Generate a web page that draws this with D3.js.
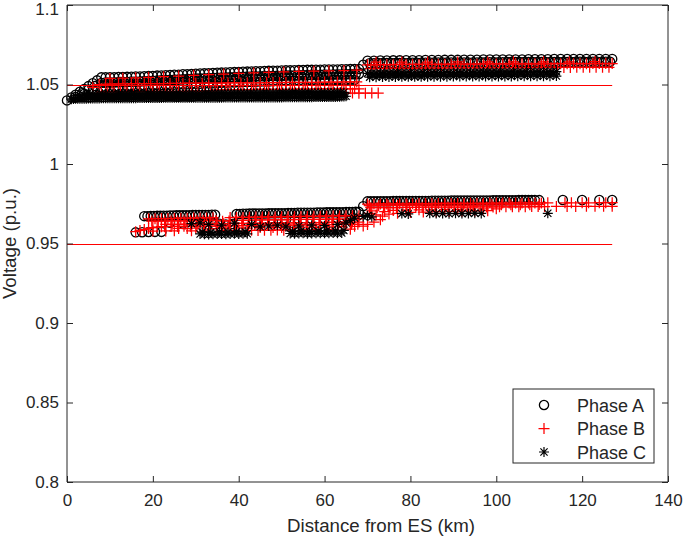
<!DOCTYPE html>
<html><head><meta charset="utf-8">
<script src="https://cdn.jsdelivr.net/npm/d3@7"></script>
<style>
body{margin:0;background:#fff}
svg text{font-family:"Liberation Sans",Arial,Helvetica,sans-serif;fill:#262626}
</style>
</head><body>
<svg id="chart" width="685" height="538"></svg>
<script>
const xTicks=[0,20,40,60,80,100,120,140];
const yTicks=[0.8,0.85,0.9,0.95,1,1.05,1.1];
const yTickLabels=["0.8","0.85","0.9","0.95","1","1.05","1.1"];
const xLabel="Distance from ES (km)";
const yLabel="Voltage (p.u.)";
const seriesNames=["Phase A","Phase B","Phase C"];
// voltage limit lines [value, from km, to km]
const limitLines=[[1.05,0,127],[0.95,0,127]];

// Phase A (circles) [km, p.u.]
const phaseA=[
[0,1.0400],[1,1.0418],[2,1.0436],[3,1.0454],[4,1.0472],[5,1.0490],[6,1.0508],[7,1.0526],[8,1.0545],[9,1.0545],[10,1.0546],[11,1.0546],[12,1.0547],[13,1.0547],[14,1.0548],[15,1.0549],[16,1.0550],[17,1.0551],[18,1.0552],[19,1.0553],[20,1.0554],[21,1.0556],[22,1.0557],[23,1.0558],[24,1.0560],[25,1.0561],[26,1.0562],[27,1.0564],[28,1.0565],[29,1.0566],[30,1.0568],[31,1.0569],[32,1.0570],[33,1.0571],[34,1.0573],[35,1.0574],[36,1.0575],[37,1.0576],[38,1.0577],[39,1.0578],[40,1.0579],[41,1.0580],[42,1.0581],[43,1.0582],[44,1.0583],[45,1.0584],[46,1.0585],[47,1.0586],[48,1.0587],[49,1.0587],[50,1.0588],[51,1.0589],[52,1.0589],[53,1.0590],[54,1.0591],[55,1.0591],[56,1.0592],[57,1.0592],[58,1.0593],[59,1.0593],[60,1.0594],[61,1.0594],[62,1.0595],[63,1.0595],[64,1.0596],[65,1.0596],[66,1.0597],[67,1.0597],[68,1.0598],[69,1.0624],
[70,1.0650],[71.5,1.0650],[73,1.0651],[74.5,1.0651],[76,1.0652],[77.5,1.0652],[79,1.0653],[80.5,1.0653],[82,1.0653],[83.5,1.0654],[85,1.0654],[86.5,1.0654],[88,1.0655],[89.5,1.0655],[91,1.0655],[92.5,1.0656],[94,1.0656],[95.5,1.0656],[97,1.0657],[98.5,1.0657],[100,1.0657],[101.5,1.0658],[103,1.0658],[104.5,1.0658],[106,1.0658],[107.5,1.0659],[109,1.0659],[110.5,1.0659],[112,1.0659],[113.5,1.0660],[115,1.0660],[116.5,1.0660],[118,1.0660],[119.5,1.0660],[121,1.0661],[122.5,1.0661],[124,1.0661],[125.5,1.0661],[127,1.0661],
[2,1.0422],[3.5,1.0445],[5,1.0468],[6.5,1.0490],[8,1.0510],[9.5,1.0512],[11,1.0513],[12.5,1.0515],[14,1.0516],[15.5,1.0518],[17,1.0519],[18.5,1.0521],[20,1.0523],[21.5,1.0525],[23,1.0527],[24.5,1.0529],[26,1.0531],[27.5,1.0533],[29,1.0535],[30.5,1.0537],[32,1.0538],[33.5,1.0540],[35,1.0542],[36.5,1.0543],[38,1.0545],[39.5,1.0546],[41,1.0548],[42.5,1.0549],[44,1.0551],[45.5,1.0552],[47,1.0553],[48.5,1.0554],[50,1.0555],[51.5,1.0556],[53,1.0557],[54.5,1.0558],[56,1.0559],[57.5,1.0560],[59,1.0561],[60.5,1.0562],[62,1.0563],[63.5,1.0563],[65,1.0564],[66.5,1.0565],[68,1.0566],
[8.75,1.0511],[10.25,1.0512],[11.75,1.0514],[13.25,1.0515],[14.75,1.0517],[16.25,1.0518],[17.75,1.0520],[19.25,1.0522],[20.75,1.0524],[22.25,1.0526],[23.75,1.0528],[25.25,1.0530],[26.75,1.0532],[28.25,1.0534],[29.75,1.0536],[31.25,1.0537],[32.75,1.0539],[34.25,1.0541],[35.75,1.0542],[37.25,1.0544],[38.75,1.0545],[40.25,1.0547],[41.75,1.0548],[43.25,1.0550],[44.75,1.0551],[46.25,1.0552],[47.75,1.0553],[49.25,1.0554],[50.75,1.0555],[52.25,1.0556],[53.75,1.0557],[55.25,1.0558],[56.75,1.0559],[58.25,1.0560],[59.75,1.0561],[61.25,1.0562],[62.75,1.0563],[64.25,1.0563],[65.75,1.0564],[67.25,1.0565],
[70.5,1.0634],[72.5,1.0635],[74.5,1.0635],[76.5,1.0636],[78.5,1.0636],[80.5,1.0637],[82.5,1.0637],[84.5,1.0638],[86.5,1.0638],[88.5,1.0638],[90.5,1.0639],[92.5,1.0639],[94.5,1.0639],[96.5,1.0640],[98.5,1.0640],[100.5,1.0640],[102.5,1.0641],[104.5,1.0641],[106.5,1.0641],[108.5,1.0641],[110.5,1.0642],[112.5,1.0642],[114.5,1.0642],[116.5,1.0642],[118.5,1.0643],[120.5,1.0643],[122.5,1.0643],[124.5,1.0643],[126.5,1.0643],
[71.5,1.0634],[73.5,1.0635],[75.5,1.0635],[77.5,1.0636],[79.5,1.0636],[81.5,1.0637],[83.5,1.0637],[85.5,1.0638],[87.5,1.0638],[89.5,1.0638],[91.5,1.0639],[93.5,1.0639],[95.5,1.0639],[97.5,1.0640],[99.5,1.0640],[101.5,1.0640],[103.5,1.0641],[105.5,1.0641],[107.5,1.0641],[109.5,1.0641],[111.5,1.0642],[113.5,1.0642],[115.5,1.0642],[117.5,1.0642],[119.5,1.0643],[121.5,1.0643],[123.5,1.0643],[125.5,1.0643],
[4,1.0440],[6,1.0462],[8,1.0482],[10,1.0484],[12,1.0486],[14,1.0488],[16,1.0490],[18,1.0492],[20,1.0494],[22,1.0496],[24,1.0498],[26,1.0500],[28,1.0502],[30,1.0504],[32,1.0506],[34,1.0508],[36,1.0510],[38,1.0512],[40,1.0514],[42,1.0516],[44,1.0517],[46,1.0519],[48,1.0520],[50,1.0522],[52,1.0523],[54,1.0524],[56,1.0525],[58,1.0526],[60,1.0527],[62,1.0528],[64,1.0529],[66,1.0530],
[9,1.0483],[11,1.0485],[13,1.0487],[15,1.0489],[17,1.0491],[19,1.0493],[21,1.0495],[23,1.0497],[25,1.0499],[27,1.0501],[29,1.0503],[31,1.0505],[33,1.0507],[35,1.0509],[37,1.0511],[39,1.0513],[41,1.0515],[43,1.0516],[45,1.0518],[47,1.0519],[49,1.0521],[51,1.0522],[53,1.0523],[55,1.0524],[57,1.0525],[59,1.0526],[61,1.0527],[63,1.0528],[65,1.0529],[67,1.0530],
[16,0.9570],[17.5,0.9571],[19,0.9572],[20.5,0.9573],[22,0.9573],
[18,0.9672],[19.5,0.9673],[21,0.9674],[22.5,0.9675],[24,0.9676],[25.5,0.9677],[27,0.9677],[28.5,0.9678],[30,0.9679],[31.5,0.9680],[33,0.9680],[34.5,0.9681],
[18.75,0.9672],[20.25,0.9673],[21.75,0.9674],[23.25,0.9675],[24.75,0.9676],[26.25,0.9677],[27.75,0.9678],[29.25,0.9679],[30.75,0.9679],[32.25,0.9680],[33.75,0.9681],
[35.5,0.9625],[37,0.9620],[38.5,0.9622],
[39.5,0.9686],[41,0.9687],[42.5,0.9688],[44,0.9688],[45.5,0.9689],[47,0.9690],[48.5,0.9690],[50,0.9691],[51.5,0.9692],[53,0.9692],[54.5,0.9693],[56,0.9694],[57.5,0.9694],[59,0.9695],[60.5,0.9696],[62,0.9696],[63.5,0.9697],[65,0.9698],[66.5,0.9698],[68,0.9699],
[40.25,0.9686],[41.75,0.9687],[43.25,0.9688],[44.75,0.9689],[46.25,0.9689],[47.75,0.9690],[49.25,0.9691],[50.75,0.9691],[52.25,0.9692],[53.75,0.9693],[55.25,0.9693],[56.75,0.9694],[58.25,0.9695],[59.75,0.9695],[61.25,0.9696],[62.75,0.9697],[64.25,0.9697],[65.75,0.9698],[67.25,0.9699],
[69,0.9735],[70,0.9765],[71.5,0.9765],[73,0.9766],[74.5,0.9766],[76,0.9767],[77.5,0.9767],[79,0.9767],[80.5,0.9768],[82,0.9768],[83.5,0.9768],[85,0.9769],[86.5,0.9769],[88,0.9769],[89.5,0.9770],[91,0.9770],[92.5,0.9770],[94,0.9771],[95.5,0.9771],[97,0.9771],[98.5,0.9771],[100,0.9772],[101.5,0.9772],[103,0.9772],[104.5,0.9772],[106,0.9773],[107.5,0.9773],[109,0.9773],[110,0.9773],
[70.75,0.9765],[72.25,0.9765],[73.75,0.9766],[75.25,0.9766],[76.75,0.9767],[78.25,0.9767],[79.75,0.9767],[81.25,0.9768],[82.75,0.9768],[84.25,0.9768],[85.75,0.9769],[87.25,0.9769],[88.75,0.9769],[90.25,0.9770],[91.75,0.9770],[93.25,0.9770],[94.75,0.9771],[96.25,0.9771],[97.75,0.9771],[99.25,0.9772],[100.75,0.9772],[102.25,0.9772],[103.75,0.9772],[105.25,0.9773],[106.75,0.9773],[108.25,0.9773],
[115.5,0.9774],[120,0.9774],[124,0.9774],[127,0.9774],
[24,0.9630],[27,0.9625],[42,0.9640],[46,0.9645],[51,0.9650],[55,0.9648],[60,0.9655],[64,0.9652]
];

// Phase B (plus) [km, p.u.]
const phaseB=[
[10,1.0538],[13,1.0540],[16,1.0542],[19,1.0545],[22.5,1.0549],[26,1.0553],[29.5,1.0558],[33,1.0562],[36.5,1.0566],[40,1.0570],[43.5,1.0573],[47,1.0576],[50.5,1.0579],[54,1.0582],[57.5,1.0584],[61,1.0586],[64.5,1.0588],[67.5,1.0590],
[6,1.0482],[7.5,1.0500],[9,1.0503],[10.5,1.0503],[12,1.0504],[13.5,1.0504],[15,1.0505],[16.5,1.0505],[18,1.0505],[19.5,1.0506],[21,1.0506],[22.5,1.0506],[24,1.0507],[25.5,1.0507],[27,1.0507],[28.5,1.0508],[30,1.0508],[31.5,1.0508],[33,1.0509],[34.5,1.0509],[36,1.0509],[37.5,1.0510],[39,1.0510],[40.5,1.0510],[42,1.0511],[43.5,1.0511],[45,1.0511],[46.5,1.0512],[48,1.0512],[49.5,1.0512],[51,1.0513],[52.5,1.0513],[54,1.0513],[55.5,1.0514],[57,1.0514],[58.5,1.0514],[60,1.0515],[61.5,1.0515],[63,1.0515],[64.5,1.0516],[66,1.0516],[67.5,1.0516],
[8,1.0452],[9.5,1.0453],[11,1.0453],[12.5,1.0454],[14,1.0454],[15.5,1.0455],[17,1.0455],[18.5,1.0455],[20,1.0456],[21.5,1.0456],[23,1.0456],[24.5,1.0457],[26,1.0457],[27.5,1.0457],[29,1.0458],[30.5,1.0458],[32,1.0458],[33.5,1.0459],
[35,1.0466],[36,1.0466],[37,1.0467],[38,1.0467],[39,1.0467],[40,1.0468],[41,1.0468],[42,1.0468],[43,1.0468],[44,1.0469],[45,1.0469],[46,1.0469],[47,1.0469],[48,1.0470],[49,1.0470],[50,1.0470],[51,1.0470],[52,1.0470],[53,1.0471],[54,1.0471],[55,1.0471],[56,1.0471],[57,1.0471],[58,1.0472],[59,1.0472],[60,1.0472],[61,1.0472],[62,1.0472],[63,1.0472],[64,1.0473],[65,1.0473],[66,1.0473],[67,1.0473],[68,1.0473],
[62,1.0448],[63.5,1.0447],[65,1.0446],[66.5,1.0446],[68,1.0445],[69.5,1.0445],[71,1.0446],[72.5,1.0446],
[70,1.0624],[71.5,1.0624],[73,1.0625],[74.5,1.0625],[76,1.0625],[77.5,1.0626],[79,1.0626],[80.5,1.0626],[82,1.0626],[83.5,1.0627],[85,1.0627],[86.5,1.0627],[88,1.0627],[89.5,1.0628],[91,1.0628],[92.5,1.0628],[94,1.0628],[95.5,1.0628],[97,1.0629],[98.5,1.0629],[100,1.0629],[101.5,1.0629],[103,1.0629],[104.5,1.0630],[106,1.0630],[107.5,1.0630],[109,1.0630],[110.5,1.0630],[112,1.0630],[113.5,1.0631],[115,1.0631],[116.5,1.0631],[118,1.0631],[119.5,1.0631],[121,1.0631],[122.5,1.0632],[124,1.0632],[125.5,1.0632],[127,1.0632],
[70.75,1.0600],[72.25,1.0600],[73.75,1.0601],[75.25,1.0601],[76.75,1.0601],[78.25,1.0602],[79.75,1.0602],[81.25,1.0602],[82.75,1.0603],[84.25,1.0603],[85.75,1.0603],[87.25,1.0603],[88.75,1.0604],[90.25,1.0604],[91.75,1.0604],[93.25,1.0604],[94.75,1.0605],[96.25,1.0605],[97.75,1.0605],[99.25,1.0605],[100.75,1.0605],[102.25,1.0606],[103.75,1.0606],[105.25,1.0606],[106.75,1.0606],[108.25,1.0606],[109.75,1.0607],[111.25,1.0607],[112.75,1.0607],[114.25,1.0607],[115.75,1.0607],[117.25,1.0607],[118.75,1.0608],[120.25,1.0608],[121.75,1.0608],[123.25,1.0608],[124.75,1.0608],[126.25,1.0608],
[72,1.0640],[78,1.0641],[84,1.0641],[91,1.0642],[98,1.0642],[104,1.0643],[111,1.0643],[117,1.0643],[123,1.0644],
[16,0.9574],[17,0.9582],[18,0.9588],[19,0.9595],[20,0.9600],[21,0.9603],[22,0.9606],
[19,0.9655],[20.5,0.9656],[22,0.9657],[23.5,0.9657],[25,0.9658],[26.5,0.9659],[28,0.9659],[29.5,0.9660],[31,0.9661],[32.5,0.9661],[34,0.9662],[38,0.9663],[39.5,0.9664],[41,0.9664],[42.5,0.9665],[44,0.9666],[45.5,0.9666],[47,0.9667],[48.5,0.9667],[50,0.9668],[51.5,0.9669],[53,0.9669],[54.5,0.9670],[56,0.9670],[57.5,0.9671],[59,0.9672],[60.5,0.9672],[62,0.9673],[63.5,0.9673],[65,0.9674],[66.5,0.9675],[68,0.9675],
[19.75,0.9640],[21.25,0.9641],[22.75,0.9641],[24.25,0.9642],[25.75,0.9642],[27.25,0.9643],[28.75,0.9643],[30.25,0.9644],[31.75,0.9644],[33.25,0.9645],[34.75,0.9645],[36.25,0.9640],[37.75,0.9642],[39.25,0.9646],[40.75,0.9646],[42.25,0.9647],[43.75,0.9647],[45.25,0.9648],[46.75,0.9648],[48.25,0.9649],[49.75,0.9649],[51.25,0.9650],[52.75,0.9650],[54.25,0.9651],[55.75,0.9651],[57.25,0.9652],[58.75,0.9652],[60.25,0.9653],[61.75,0.9653],[63.25,0.9654],[64.75,0.9654],[66.25,0.9655],[67.75,0.9655],
[23,0.9620],[24.5,0.9621],[26,0.9621],[27.5,0.9622],[29,0.9622],[30.5,0.9623],[32,0.9623],[33.5,0.9624],[35,0.9624],[36.5,0.9625],[38,0.9625],[39.5,0.9626],[41,0.9626],[42.5,0.9627],[44,0.9627],[45.5,0.9628],[47,0.9628],[48.5,0.9629],[50,0.9629],[51.5,0.9630],[53,0.9630],[54.5,0.9631],[56,0.9631],[57.5,0.9632],[59,0.9632],[60.5,0.9633],[62,0.9633],[63.5,0.9634],[65,0.9634],[66.5,0.9635],[68,0.9635],
[22.75,0.9606],[24.25,0.9607],[25.75,0.9607],[27.25,0.9608],[28.75,0.9608],[30.25,0.9609],[31.75,0.9609],[33.25,0.9610],[34.75,0.9610],[36.25,0.9611],[37.75,0.9611],[39.25,0.9612],[40.75,0.9612],[42.25,0.9613],[43.75,0.9613],[45.25,0.9614],[46.75,0.9614],[48.25,0.9615],[49.75,0.9615],[51.25,0.9616],[52.75,0.9616],[54.25,0.9617],[55.75,0.9617],[57.25,0.9618],[58.75,0.9618],[60.25,0.9619],[61.75,0.9619],[63.25,0.9620],[64.75,0.9620],[66.25,0.9621],[67.75,0.9621],
[26,0.9595],[28,0.9594],[30,0.9596],[33,0.9592],[35,0.9594],[37,0.9596],[40,0.9598],[42,0.9597],[45,0.9600],[48,0.9601],[50,0.9600],[53,0.9602],[56,0.9603],[58,0.9602],[61,0.9605],[64,0.9606],[67,0.9608],[69,0.9610],[70,0.9620],[71.5,0.9635],[73,0.9650],
[20,0.9578],[23,0.9579],[25,0.9580],[29,0.9580],[32,0.9579],[36,0.9581],[39,0.9582],[43,0.9583],[44.5,0.9582],[46,0.9584],[47.5,0.9583],[49,0.9585],[50.5,0.9584],[52,0.9586],[55,0.9587],[58,0.9588],[62,0.9589],[66,0.9590],
[70,0.9748],[71.5,0.9748],[73,0.9749],[74.5,0.9749],[76,0.9749],[77.5,0.9750],[79,0.9750],[80.5,0.9750],[82,0.9751],[83.5,0.9751],[85,0.9751],[86.5,0.9752],[88,0.9752],[89.5,0.9752],[91,0.9752],[92.5,0.9753],[94,0.9753],[95.5,0.9753],[97,0.9753],[98.5,0.9754],[100,0.9754],[101.5,0.9754],[103,0.9754],[104.5,0.9755],[106,0.9755],[107.5,0.9755],[109,0.9755],[110.5,0.9755],[112,0.9756],[116,0.9756],[117.5,0.9756],[120,0.9756],[121.5,0.9756],[124,0.9757],[125.5,0.9757],[127,0.9757],
[70.75,0.9725],[72.25,0.9725],[73.75,0.9726],[75.25,0.9726],[76.75,0.9726],[78.25,0.9727],[79.75,0.9727],[81.25,0.9727],[82.75,0.9728],[84.25,0.9728],[85.75,0.9728],[87.25,0.9728],[88.75,0.9729],[90.25,0.9729],[91.75,0.9729],[93.25,0.9729],[94.75,0.9730],[96.25,0.9730],[97.75,0.9730],[99.25,0.9730],[100.75,0.9731],[102.25,0.9731],[103.75,0.9731],[105.25,0.9731],[106.75,0.9731],[108.25,0.9732],[109.75,0.9732],[111.25,0.9732],[114,0.9733],[116.5,0.9733],[118.5,0.9733],[121,0.9734],[123,0.9734],[125,0.9734],[127,0.9734],
[70.4,0.9738],[72.6,0.9738],[74.8,0.9739],[77,0.9739],[79.2,0.9740],[81.4,0.9740],[83.6,0.9741],[85.8,0.9741],[88,0.9741],[90.2,0.9742],[92.4,0.9742],[94.6,0.9742],[96.8,0.9743],[99,0.9743],[101.2,0.9743],[103.4,0.9744],[105.6,0.9744],[107.8,0.9744],[110,0.9745],
[70.5,0.9690],[72,0.9680],[73.5,0.9672],[75,0.9685],[77,0.9690],[80,0.9695],[83,0.9698],[86,0.9700],[89,0.9702],[92,0.9703],[95,0.9705],[98,0.9706],
[71,0.9705],[74,0.9700],[76,0.9708],[79,0.9710],[82,0.9712],[85,0.9712],[88,0.9714],[91,0.9715],[94,0.9716],[97,0.9717],[100,0.9718]
];

// Phase C (asterisk) [km, p.u.]
const phaseC=[
[1,1.0408],[2,1.0410],[3,1.0411],[4,1.0411],[5,1.0412],[6,1.0412],[7,1.0412],[8,1.0413],[9,1.0413],[10,1.0413],[11,1.0413],[12,1.0414],[13,1.0414],[14,1.0414],[15,1.0414],[16,1.0414],[17,1.0415],[18,1.0415],[19,1.0415],[20,1.0415],[21,1.0415],[22,1.0415],[23,1.0416],[24,1.0416],[25,1.0416],[26,1.0416],[27,1.0416],[28,1.0416],[29,1.0416],[30,1.0417],[31,1.0417],[32,1.0417],[33,1.0417],[34,1.0417],[35,1.0417],[36,1.0417],[37,1.0418],[38,1.0418],[39,1.0418],[40,1.0418],[41,1.0418],[42,1.0418],[43,1.0418],[44,1.0419],[45,1.0419],[46,1.0419],[47,1.0419],[48,1.0419],[49,1.0419],[50,1.0419],[51,1.0420],[52,1.0420],[53,1.0420],[54,1.0420],[55,1.0420],[56,1.0420],[57,1.0420],[58,1.0421],[59,1.0421],[60,1.0421],[61,1.0421],[62,1.0422],[63,1.0423],[64,1.0424],[65,1.0426],
[1.5,1.0409],[2.5,1.0410],[3.5,1.0411],[4.5,1.0411],[5.5,1.0412],[6.5,1.0412],[7.5,1.0412],[8.5,1.0413],[9.5,1.0413],[10.5,1.0413],[11.5,1.0414],[12.5,1.0414],[13.5,1.0414],[14.5,1.0414],[15.5,1.0414],[16.5,1.0415],[17.5,1.0415],[18.5,1.0415],[19.5,1.0415],[20.5,1.0415],[21.5,1.0415],[22.5,1.0416],[23.5,1.0416],[24.5,1.0416],[25.5,1.0416],[26.5,1.0416],[27.5,1.0416],[28.5,1.0416],[29.5,1.0417],[30.5,1.0417],[31.5,1.0417],[32.5,1.0417],[33.5,1.0417],[34.5,1.0417],[35.5,1.0417],[36.5,1.0418],[37.5,1.0418],[38.5,1.0418],[39.5,1.0418],[40.5,1.0418],[41.5,1.0418],[42.5,1.0418],[43.5,1.0419],[44.5,1.0419],[45.5,1.0419],[46.5,1.0419],[47.5,1.0419],[48.5,1.0419],[49.5,1.0419],[50.5,1.0420],[51.5,1.0420],[52.5,1.0420],[53.5,1.0420],[54.5,1.0420],[55.5,1.0420],[56.5,1.0420],[57.5,1.0421],[58.5,1.0421],[59.5,1.0421],[60.5,1.0421],[61.5,1.0422],[62.5,1.0422],[63.5,1.0423],[64.5,1.0425],
[3,1.0430],[4.5,1.0436],[6,1.0438],[7.5,1.0439],[9,1.0440],[10.5,1.0440],[12,1.0441],[13.5,1.0441],[15,1.0442],[16.5,1.0442],[18,1.0442],[19.5,1.0443],[21,1.0443],[22.5,1.0443],[24,1.0444],[25.5,1.0444],[27,1.0444],[28.5,1.0445],[30,1.0445],[31.5,1.0445],[33,1.0446],[34.5,1.0446],[36,1.0446],[37.5,1.0446],[39,1.0447],[40.5,1.0447],[42,1.0447],[43.5,1.0447],[45,1.0448],[46.5,1.0448],[48,1.0448],[49.5,1.0448],[51,1.0449],[52.5,1.0449],[54,1.0449],[55.5,1.0449],[57,1.0450],[58.5,1.0450],[60,1.0450],[61.5,1.0450],[63,1.0451],[64.5,1.0451],
[5.25,1.0437],[6.75,1.0438],[8.25,1.0439],[9.75,1.0440],[11.25,1.0440],[12.75,1.0441],[14.25,1.0441],[15.75,1.0442],[17.25,1.0442],[18.75,1.0443],[20.25,1.0443],[21.75,1.0443],[23.25,1.0444],[24.75,1.0444],[26.25,1.0444],[27.75,1.0445],[29.25,1.0445],[30.75,1.0445],[32.25,1.0446],[33.75,1.0446],[35.25,1.0446],[36.75,1.0446],[38.25,1.0447],[39.75,1.0447],[41.25,1.0447],[42.75,1.0447],[44.25,1.0448],[45.75,1.0448],[47.25,1.0448],[48.75,1.0448],[50.25,1.0449],[51.75,1.0449],[53.25,1.0449],[54.75,1.0449],[56.25,1.0450],[57.75,1.0450],[59.25,1.0450],[60.75,1.0450],[62.25,1.0451],[63.75,1.0451],
[70,1.0570],[71,1.0571],[72,1.0571],[73,1.0572],[74,1.0572],[75,1.0572],[76,1.0573],[77,1.0573],[78,1.0573],[79,1.0574],[80,1.0574],[81,1.0574],[82,1.0574],[83,1.0575],[84,1.0575],[85,1.0575],[86,1.0575],[87,1.0576],[88,1.0576],[89,1.0576],[90,1.0576],[91,1.0577],[92,1.0577],[93,1.0577],[94,1.0577],[95,1.0577],[96,1.0578],[97,1.0578],[98,1.0578],[99,1.0578],[100,1.0578],[101,1.0579],[102,1.0579],[103,1.0579],[104,1.0579],[105,1.0579],[106,1.0579],[107,1.0580],[108,1.0580],[109,1.0580],[110,1.0580],[111,1.0580],[112,1.0580],[113,1.0580],[114,1.0581],
[70.5,1.0546],[72,1.0546],[73.5,1.0547],[75,1.0547],[76.5,1.0547],[78,1.0548],[79.5,1.0548],[81,1.0548],[82.5,1.0548],[84,1.0549],[85.5,1.0549],[87,1.0549],[88.5,1.0549],[90,1.0550],[91.5,1.0550],[93,1.0550],[94.5,1.0550],[96,1.0550],[97.5,1.0551],[99,1.0551],[100.5,1.0551],[102,1.0551],[103.5,1.0551],[105,1.0552],[106.5,1.0552],[108,1.0552],[109.5,1.0552],[111,1.0552],[112.5,1.0552],[114,1.0553],
[71.25,1.0560],[72.75,1.0560],[74.25,1.0561],[75.75,1.0561],[77.25,1.0561],[78.75,1.0562],[80.25,1.0562],[81.75,1.0562],[83.25,1.0562],[84.75,1.0563],[86.25,1.0563],[87.75,1.0563],[89.25,1.0563],[90.75,1.0564],[92.25,1.0564],[93.75,1.0564],[95.25,1.0564],[96.75,1.0565],[98.25,1.0565],[99.75,1.0565],[101.25,1.0565],[102.75,1.0565],[104.25,1.0566],[105.75,1.0566],[107.25,1.0566],[108.75,1.0566],[110.25,1.0566],[111.75,1.0567],[113.25,1.0567],
[31,0.9560],[32,0.9558],[33,0.9557],[34,0.9558],[35,0.9560],[36,0.9559],[37,0.9558],[38,0.9560],[39,0.9561],[40,0.9560],[41,0.9562],[42,0.9561],
[31.5,0.9572],[33.5,0.9570],[35.5,0.9574],[37.5,0.9571],[39.5,0.9575],[41.5,0.9573],
[52,0.9563],[53,0.9562],[54,0.9563],[55,0.9564],[56,0.9562],[57,0.9563],[58,0.9564],[59,0.9565],[60,0.9564],[61,0.9565],[62,0.9566],[63,0.9565],[64,0.9566],
[52.5,0.9576],[54.5,0.9578],[56.5,0.9575],[58.5,0.9578],[60.5,0.9580],[62.5,0.9579],[64.5,0.9582],
[29,0.9625],[31,0.9630],[33,0.9620],[36,0.9615],[39,0.9628],[43,0.9620],[45,0.9605],[47,0.9610],[49,0.9615],[51,0.9605],[54,0.9610],[57,0.9615],[60,0.9612],[63,0.9620],[65,0.9630],[66,0.9645],[67,0.9660],[69,0.9670],[70,0.9675],[71,0.9668],
[78,0.9688],[79.5,0.9686],[84.5,0.9690],[86,0.9688],[87.5,0.9689],[89,0.9687],[90.5,0.9690],[92,0.9688],[93.5,0.9689],[95,0.9691],[96.5,0.9689],[112,0.9690]
];

const W=685,H=538;
const plotL=67,plotR=668,plotT=5,plotB=482;
const axisColor="#262626";
const fs=17, labelFs=18.7, legendFs=18;
const svg=d3.select("#chart");
svg.append("rect").attr("width",W).attr("height",H).attr("fill","#fff");
const x=d3.scaleLinear().domain([0,140]).range([plotL,plotR]);
const y=d3.scaleLinear().domain([0.8,1.1]).range([plotB,plotT]);

const symPaths={
  A:"M-4.6,0A4.6,4.6 0 1,0 4.6,0A4.6,4.6 0 1,0 -4.6,0Z",
  B:"M-5.5,0H5.5M0,-5.5V5.5",
  C:"M-5,0H5M0,-5V5M-3.6,-3.6L3.6,3.6M-3.6,3.6L3.6,-3.6"
};
const symColor={A:"#000",B:"#ff0000",C:"#000"};
const symWidth={A:1.3,B:1.25,C:1.2};

const g=svg.append("g");
function drawSeries(data,key){
  g.append("g").selectAll("path").data(data).join("path")
    .attr("transform",d=>`translate(${x(d[0])},${y(d[1])})`)
    .attr("d",symPaths[key]).attr("fill","none")
    .attr("stroke",symColor[key]).attr("stroke-width",symWidth[key]);
}
drawSeries(phaseA,"A");
drawSeries(phaseB,"B");
drawSeries(phaseC,"C");

// limit lines
svg.append("g").selectAll("line").data(limitLines).join("line")
  .attr("x1",d=>x(d[1])).attr("x2",d=>x(d[2]))
  .attr("y1",d=>Math.round(y(d[0]))+0.5).attr("y2",d=>Math.round(y(d[0]))+0.5)
  .attr("stroke","#ff0000").attr("stroke-width",1);

// axes (MATLAB style: ticks inward, box)
const tickLen=6;
const xAxisB=d3.axisBottom(x).tickValues(xTicks).tickSize(-tickLen).tickPadding(12).tickFormat(d3.format("d"));
const xAxisT=d3.axisTop(x).tickValues(xTicks).tickSize(-tickLen).tickFormat("");
const yAxisL=d3.axisLeft(y).tickValues(yTicks).tickSize(-tickLen).tickPadding(8).tickFormat((d,i)=>yTickLabels[i]);
const yAxisR=d3.axisRight(y).tickValues(yTicks).tickSize(-tickLen).tickFormat("");
function style(sel){
  sel.select(".domain").attr("stroke",axisColor).attr("stroke-width",1);
  sel.selectAll(".tick line").attr("stroke",axisColor).attr("stroke-width",1);
  sel.selectAll(".tick text").attr("fill",axisColor).style("font-size",fs+"px").style("font-family",'"Liberation Sans",Arial,sans-serif');
}
const gxb=svg.append("g").attr("transform",`translate(0,${plotB})`).call(xAxisB).call(style);
gxb.select(".domain").attr("d",`M${plotL},0H${plotR}`);
const gxt=svg.append("g").attr("transform",`translate(0,${plotT})`).call(xAxisT).call(style);
gxt.select(".domain").attr("d",`M${plotL},0H${plotR}`);
const gyl=svg.append("g").attr("transform",`translate(${plotL},0)`).call(yAxisL).call(style);
gyl.select(".domain").attr("d",`M0,${plotT}V${plotB}`);
// keep the top label inside the picture
gyl.selectAll(".tick text").filter(d=>d===1.1).attr("dy","0.55em");
const gyr=svg.append("g").attr("transform",`translate(${plotR},0)`).call(yAxisR).call(style);
gyr.select(".domain").attr("d",`M0,${plotT}V${plotB}`);

// axis labels
svg.append("text").attr("x",381).attr("y",532).attr("text-anchor","middle")
  .style("font-size",labelFs+"px").text(xLabel);
svg.append("text").attr("transform",`translate(16,${(plotT+plotB)/2}) rotate(-90)`).attr("text-anchor","middle")
  .style("font-size",labelFs+"px").text(yLabel);

// legend
const lg=svg.append("g");
lg.append("rect").attr("x",513).attr("y",389).attr("width",141).attr("height",74)
  .attr("fill","#fff").attr("stroke",axisColor).attr("stroke-width",1);
const keys=["A","B","C"];
keys.forEach((k,i)=>{
  const cy=405+i*23.5;
  lg.append("path").attr("d",symPaths[k]).attr("transform",`translate(544,${cy})`)
    .attr("fill","none").attr("stroke",symColor[k]).attr("stroke-width",symWidth[k]);
  lg.append("text").attr("x",577).attr("y",cy+6.5).style("font-size",legendFs+"px").text(seriesNames[i]);
});
</script>
</body></html>
